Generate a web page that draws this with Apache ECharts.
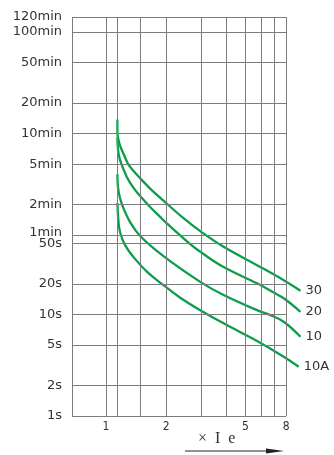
<!DOCTYPE html>
<html>
<head>
<meta charset="utf-8">
<script src="https://cdn.jsdelivr.net/npm/echarts@6/dist/echarts.min.js"></script>
<style>
html,body{margin:0;padding:0;background:#fff;}
#chart{width:334px;height:455px;}
</style>
</head>
<body>
<div id="chart"></div>
<script>
// ---- axis extents ----
const xMin = 0.675;
const xFrameMax = 8;     // right edge of the ruled frame
const xAxisMax = 9.5;    // leader lines run past the frame to the labels
const yMin = 1;
const yMax = 8440;       // top frame edge (labelled "120min" in the reference)

// ---- grid lines / tick labels ----
const xGridValues = [xMin, 1, 1.14, 1.48, 2, 3, 4, 5, 6, 7, 8];
const xTickLabels = ['', '1', '', '', '2', '', '', '5', '', '', '8'];
const yGridValues = [1, 2, 5, 10, 20, 50, 60, 120, 300, 600, 1200, 3000, 6000, yMax];
const yTickLabels = ['1s', '2s', '5s', '10s', '20s', '50s', '1min', '2min', '5min', '10min', '20min', '50min', '100min', '120min'];

// ---- curves (x = multiple of Ie, y = seconds) ----
const curveNames = ['30', '20', '10', '10A'];
const curve30 = [[1.14, 827], [1.141, 606], [1.156, 518], [1.183, 442], [1.222, 383], [1.294, 299], [1.371, 259], [1.482, 219], [1.664, 173], [1.941, 131.5], [2.446, 88.5], [2.968, 65.9], [3.886, 46.2], [5.719, 30.5], [7.78, 21.7], [9.44, 17.1]];
const curve20 = [[1.14, 558], [1.149, 413], [1.176, 329], [1.271, 225], [1.371, 177], [1.482, 146], [1.664, 114], [1.867, 91], [2.018, 78.5], [2.644, 49.1], [2.968, 41.3], [3.886, 29.2], [5.719, 20.2], [6.93, 16.4], [7.78, 14.4], [9.44, 10.6]];
const curve10 = [[1.14, 240], [1.149, 174.5], [1.176, 139], [1.222, 111], [1.32, 81], [1.482, 59], [1.941, 37.4], [2.968, 20.9], [3.886, 15.5], [5.719, 11.0], [6.671, 9.84], [7.78, 8.46], [9.44, 6.02]];
const curve10A = [[1.14, 125], [1.153, 84.6], [1.176, 64.4], [1.246, 48], [1.371, 36.8], [1.607, 26.2], [1.941, 19.4], [2.355, 14.6], [2.968, 11.0], [3.886, 8.16], [5.719, 5.47], [7.78, 3.83], [9.25, 3.05]];
const curves = [curve30, curve20, curve10, curve10A];

const GRID_COLOR = '#7d7d7d';
const LINE_COLOR = '#0c9d4c';
const TEXT_COLOR = '#333';
const FONT = "'DejaVu Sans', sans-serif";

const chart = echarts.init(document.getElementById('chart'), null, {renderer: 'canvas'});

const gridLines = [];
yGridValues.forEach((v, i) => {
  gridLines.push([
    {coord: [xMin, v],
     label: {show: true, formatter: yTickLabels[i], position: 'start', distance: 10,
             offset: yTickLabels[i] === '1min' ? [0, -3] : [0, 0],
             color: TEXT_COLOR, fontSize: 13, fontFamily: FONT}},
    {coord: [xFrameMax, v]}
  ]);
});
xGridValues.forEach((v, i) => {
  gridLines.push([
    {coord: [v, yMin],
     label: {show: xTickLabels[i] !== '', formatter: xTickLabels[i], position: 'start', distance: 5,
             color: TEXT_COLOR, fontSize: 12, fontFamily: "'Liberation Sans Narrow', 'DejaVu Sans Condensed', sans-serif"}},
    {coord: [v, yMax]}
  ]);
});

const series = [{
  type: 'line',
  data: [],
  silent: true,
  z: 1,
  markLine: {
    silent: true,
    symbol: ['none', 'none'],
    animation: false,
    lineStyle: {color: GRID_COLOR, width: 1, type: 'solid'},
    emphasis: {disabled: true},
    data: gridLines
  }
}];

curves.forEach((c, i) => {
  series.push({
    type: 'line',
    name: curveNames[i],
    data: c,
    z: 3,
    showSymbol: false,
    symbol: 'none',
    smooth: 0.4,
    lineStyle: {color: LINE_COLOR, width: 2.3},
    endLabel: {show: true, formatter: curveNames[i], color: TEXT_COLOR, fontSize: 13, fontFamily: FONT, distance: 5},
    animation: false
  });
});

chart.setOption({
  animation: false,
  backgroundColor: '#fff',
  grid: {left: 72, right: 33, top: 17, bottom: 39, show: false, containLabel: false},
  xAxis: {
    type: 'log', logBase: 10, min: xMin, max: xAxisMax,
    axisLine: {show: false}, axisTick: {show: false}, axisLabel: {show: false}, splitLine: {show: false}
  },
  yAxis: {
    type: 'log', logBase: 10, min: yMin, max: yMax,
    axisLine: {show: false}, axisTick: {show: false}, axisLabel: {show: false}, splitLine: {show: false}
  },
  graphic: [
    {type: 'text', left: 198, top: 431, style: {text: '×  I  e', fill: TEXT_COLOR, font: "16px 'Liberation Serif', serif"}},
    {type: 'line', shape: {x1: 185, y1: 451, x2: 270, y2: 451}, style: {stroke: '#222', lineWidth: 1}},
    {type: 'polygon', shape: {points: [[266, 448.5], [284, 451], [266, 453.5]]}, style: {fill: '#222'}}
  ],
  series: series
});
</script>
</body>
</html>
